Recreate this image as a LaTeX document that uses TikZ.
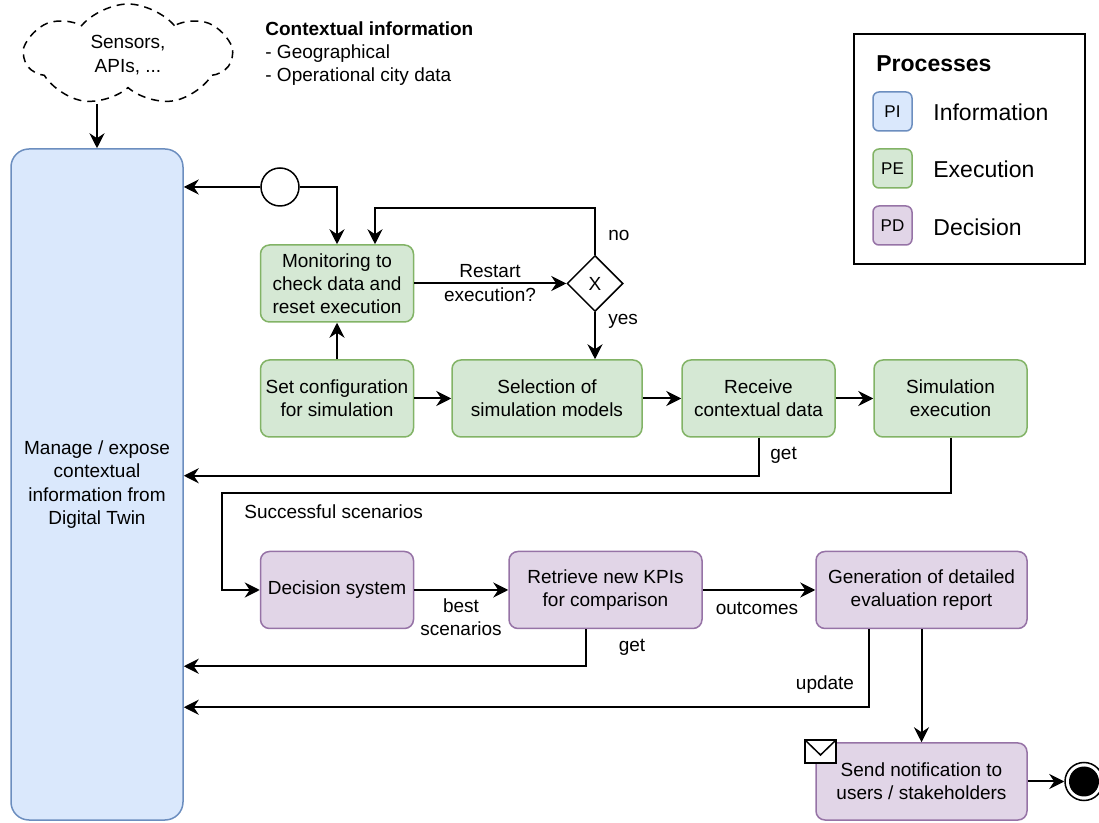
\documentclass[tikz,border=0pt]{standalone}
\usepackage{fontspec}
\setmainfont{Liberation Sans}
\usepackage{tikz}
\usetikzlibrary{arrows.meta}
\usetikzlibrary{shapes.geometric}
\usetikzlibrary{shapes.symbols}

\definecolor{infofill}{HTML}{DAE8FC}
\definecolor{infoline}{HTML}{6C8EBF}
\definecolor{execfill}{HTML}{D5E8D4}
\definecolor{execline}{HTML}{82B366}
\definecolor{decfill}{HTML}{E1D5E7}
\definecolor{decline}{HTML}{9673A6}

\begin{document}
\begin{tikzpicture}[x=0.5pt,y=-0.5pt,every node/.style={font=\fontsize{9.5}{11.6}\selectfont, align=center, inner sep=1pt},
	proc/.style={rectangle, rounded corners=4.5pt, draw, line width=0.75pt, minimum width=76.5pt, minimum height=38.5pt},
	pinfo/.style={proc, fill=infofill, draw=infoline},
	pexec/.style={proc, fill=execfill, draw=execline},
	pdec/.style={proc, fill=decfill, draw=decline},
	tag/.style={proc, rounded corners=3pt, minimum width=19.5pt, minimum height=19.5pt, font=\fontsize{8.5}{10}\selectfont},
	legtext/.style={anchor=west, font=\fontsize{11.5}{14}\selectfont},
	flow/.style={-{Stealth[length=7.5pt,width=7.5pt,inset=2.5pt]}, line width=1pt}]
	
	\useasboundingbox (0,0) rectangle (1099,823);
	
	% source and context
	\node[cloud, draw, dash pattern=on 4pt off 3pt, line width=0.75pt, cloud puffs=7, cloud puff arc=100, cloud ignores aspect, minimum width=103pt, minimum height=51pt] (cloud) at (128,55) {Sensors,\\APIs, ...};
	\coordinate (cloudfoot) at (97,104);
	\node[anchor=north west, align=left] (context) at (263,19) {\textbf{Contextual information}\\- Geographical\\- Operational city data};
	
	% digital twin
	\node[pinfo, rounded corners=9pt, minimum width=86pt, minimum height=335.5pt] (twin) at (97,484.5) {Manage / expose\\contextual\\information from\\Digital Twin};
	
	% legend
	\node[draw, line width=1pt, minimum width=115.5pt, minimum height=115pt] (legend) at (969.5,149) {};
	\node[legtext, font=\fontsize{11.5}{14}\selectfont\bfseries] (legtitle) at (874,64) {Processes};
	\node[tag, fill=infofill, draw=infoline] (tagpi) at (892.5,111.5) {PI};
	\node[tag, fill=execfill, draw=execline] (tagpe) at (892.5,168.5) {PE};
	\node[tag, fill=decfill, draw=decline] (tagpd) at (892.5,225.5) {PD};
	\node[legtext] (leginfo) at (931,112) {Information};
	\node[legtext] (legexec) at (931,169) {Execution};
	\node[legtext] (legdec) at (931,227) {Decision};
	
	% execution
	\node[circle, draw, line width=0.75pt, minimum size=19pt, inner sep=0pt] (start) at (280,187) {};
	\node[pexec] (monitor) at (337,283.5) {Monitoring to\\check data and\\reset execution};
	\node[diamond, draw, line width=0.75pt, minimum width=28pt, minimum height=28pt, inner sep=0pt] (gate) at (595,283.5) {X};
	\node[pexec] (config) at (337,398.5) {Set configuration\\for simulation};
	\node[pexec, minimum width=95pt] (select) at (547,398.5) {Selection of\\simulation models};
	\node[pexec] (receive) at (758.5,398.5) {Receive\\contextual data};
	\node[pexec] (simexec) at (950.5,398.5) {Simulation\\execution};
	
	% decision
	\node[pdec] (decide) at (337,590) {Decision system};
	\node[pdec, minimum width=96.5pt] (retrieve) at (605.5,590) {Retrieve new KPIs\\for comparison};
	\node[pdec, minimum width=105.5pt] (generate) at (921.5,590) {Generation of detailed\\evaluation report};
	\node[pdec, minimum width=105.5pt] (send) at (921.5,781.5) {Send notification to\\users / stakeholders};
	\node[circle, draw, line width=0.75pt, minimum size=19pt, inner sep=0pt, path picture={\fill (path picture bounding box.center) circle (7.5pt);}] (finish) at (1084,781.5) {};
	
	% envelope
	\draw[line width=0.75pt, fill=white] (805,740) rectangle (836,763);
	\draw[line width=0.75pt] (805,740) -- (820.5,755) -- (836,740);
	
	% connectors
	\draw[flow] (cloudfoot) -- (twin.north);
	\draw[flow] (start.west) -- (start.west -| twin.east);
	\draw[flow] (start.east) -| (monitor.north);
	\draw[flow] (gate.north) -- ++(0,-46.5) -| ([xshift=19pt]monitor.north);
	\draw[flow] (monitor.east) -- (gate.west);
	\draw[flow] (gate.south) -- (gate.south |- select.north);
	\draw[flow] (config) -- (monitor);
	\draw[flow] (config) -- (select);
	\draw[flow] (select) -- (receive);
	\draw[flow] (receive) -- (simexec);
	\draw[flow] (receive.south) -- ++(0,38) coordinate (getone) -- (getone -| twin.east);
	\coordinate (bend) at (222,493.5);
	\draw[flow] (simexec.south) |- (bend) |- (decide.west);
	\draw[flow] (decide) -- (retrieve);
	\draw[flow] (retrieve) -- (generate);
	\draw[flow] ([xshift=-10pt]retrieve.south) -- ++(0,37) coordinate (gettwo) -- (gettwo -| twin.east);
	\draw[flow] ([xshift=-26.5pt]generate.south) -- ++(0,78) coordinate (upd) -- (upd -| twin.east);
	\draw[flow] (generate) -- (send);
	\draw[flow] (send) -- (finish);
	
	% labels
	\node (lrestart) at (490,283) {Restart\\execution?};
	\node[anchor=west] (lno) at (606,235) {no};
	\node[anchor=west] (lyes) at (606,321) {yes};
	\node[anchor=west] (lgetone) at (768,455) {get};
	\node[anchor=west] (lsucc) at (242,512) {Successful scenarios};
	\node (lbest) at (461,617.5) {best\\scenarios};
	\node (lout) at (757,608) {outcomes};
	\node (lgettwo) at (632,647) {get};
	\node (lupd) at (825,685) {update};
\end{tikzpicture}
\end{document}
